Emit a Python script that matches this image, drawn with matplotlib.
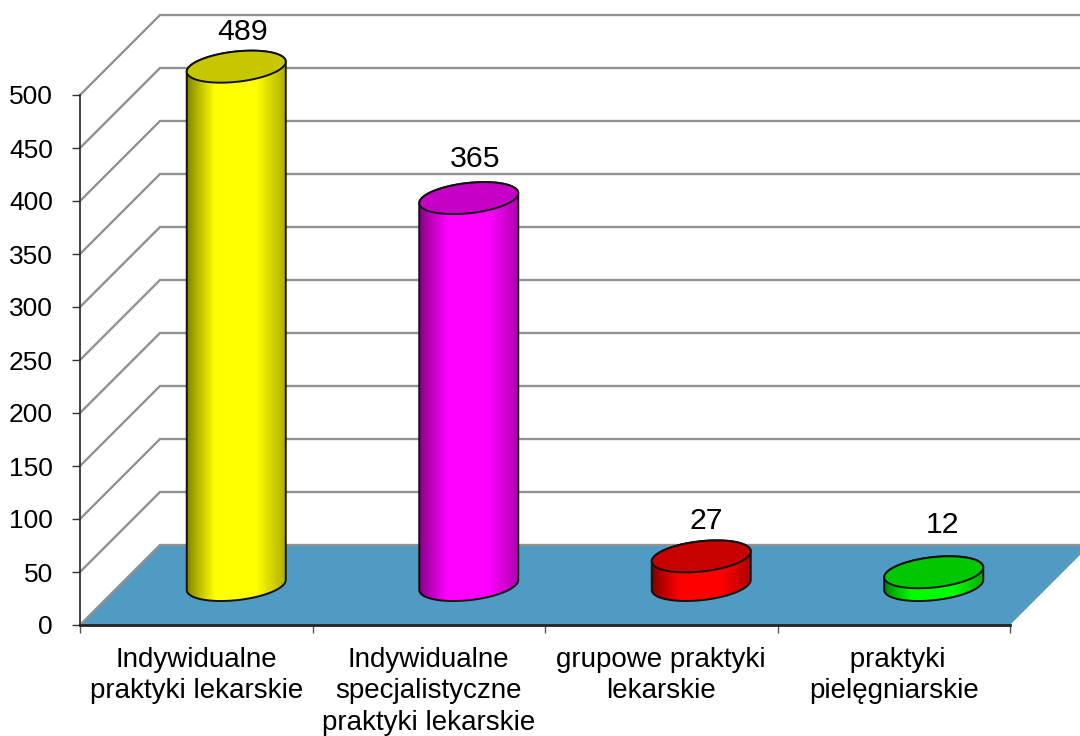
import numpy as np
import matplotlib
matplotlib.use("Agg")
import matplotlib.pyplot as plt
from matplotlib.patches import Polygon

plt.rcParams["font.family"] = ["Liberation Sans", "DejaVu Sans"]

categories = [
    "Indywidualne\npraktyki lekarskie",
    "Indywidualne\nspecjalistyczne\npraktyki lekarskie",
    "grupowe praktyki\nlekarskie",
    " praktyki\npielęgniarskie",
]
values = [489, 365, 27, 12]
y_ticks = list(range(0, 501, 50))
colors = ["#ffff00", "#ff00ff", "#ff0000", "#00ff00"]

W, H = 1080, 736
LEFT, RIGHT, BOTTOM, TOP = 80, 1010, 625, 95

fig = plt.figure(figsize=(W / 100, H / 100), dpi=100)
ax = fig.add_axes([LEFT / W, 1 - BOTTOM / H, (RIGHT - LEFT) / W, (BOTTOM - TOP) / H])
ax.patch.set_visible(False)

# size of one pixel in data units
px_x = 4 / (RIGHT - LEFT)
px_y = 500 / (BOTTOM - TOP)
depth_x = 80 * px_x
depth_y = 80 * px_y
grid_end = 4 + depth_x + 20 * px_x

# floor and walls
ax.add_patch(Polygon([(0, 0), (4, 0), (4 + depth_x, depth_y), (depth_x, depth_y)],
                     fc="#4f9bc3", ec="none", zorder=1, clip_on=False))
for t in y_ticks:
    ax.plot([0, depth_x, grid_end], [t, t + depth_y, t + depth_y], color="#929292",
            lw=1.7, zorder=1.5, clip_on=False, solid_joinstyle="miter")


def ellipse(cx, cy, a):
    t = np.linspace(0, 2 * np.pi, 181)
    x = cx + a * px_x * np.cos(t)
    y = cy + (5 * np.cos(t) + 15.2 * np.sin(t)) * px_y
    return x, y


# cylinders stand half way into the floor
for i, (v, c) in enumerate(zip(values, colors)):
    cx = i + 0.5 + depth_x / 2
    a = 49.5
    base_y = depth_y / 2
    top_y = base_y + v

    xb, yb = ellipse(cx, base_y, a)
    xt, yt = ellipse(cx, top_y, a)
    half = 91
    # lower arc of the base, then upper arc of the top
    xs = np.concatenate([xb[half - 1:], xt[:half]])
    ys = np.concatenate([yb[half - 1:], yt[:half]])

    rgb = np.array(matplotlib.colors.to_rgb(c))
    u = np.linspace(0, 1, 200)
    shade = np.interp(u, [0, 0.05, 0.28, 0.7, 0.95, 1], [0.5, 0.62, 1, 1, 0.74, 0.68])
    img = shade[None, :, None] * rgb[None, None, :]
    im = ax.imshow(img, extent=[cx - a * px_x, cx + a * px_x, base_y - 30 * px_y, top_y + 30 * px_y],
                   aspect="auto", zorder=3, interpolation="bilinear")
    body = Polygon(np.column_stack([xs, ys]), closed=True, fc="none", ec="#111111", lw=1.4,
                   zorder=3.1, clip_on=False)
    ax.add_patch(body)
    im.set_clip_path(body)
    im.set_clip_box(fig.bbox)
    ax.add_patch(Polygon(np.column_stack([xt, yt]), closed=True, fc=rgb * 0.78, ec="#111111",
                         lw=1.4, zorder=3.2, clip_on=False))

label_offsets = [(6, 35), (6, 39), (5, 35), (9, 47)]
for i, v in enumerate(values):
    cx = i + 0.5 + depth_x / 2
    dx, dy = label_offsets[i]
    ax.text(cx + dx * px_x, depth_y / 2 + v + dy * px_y, str(v), fontsize=21.8,
            ha="center", va="center", color="#000000", zorder=5, clip_on=False)

ax.set_xlim(0, 4)
ax.set_ylim(0, 500)
ax.set_yticks(y_ticks)
ax.set_xticks(range(5))
ax.set_xticklabels([])
ax.set_xticks(np.arange(4) + 0.5, categories, minor=True, linespacing=1.29)
ax.tick_params(axis="x", which="minor", length=0, pad=15.5, labelsize=20)
ax.tick_params(axis="x", which="major", length=6, width=1, color="#555555")
ax.tick_params(axis="y", length=6, width=1, color="#333333", pad=13.5, labelsize=19)
for side in ["top", "right"]:
    ax.spines[side].set_visible(False)
ax.spines["left"].set_linewidth(1.3)
ax.spines["left"].set_color("#333333")
ax.spines["bottom"].set_linewidth(2)
ax.spines["bottom"].set_color("#222222")

fig.savefig("out.png", dpi=100)
